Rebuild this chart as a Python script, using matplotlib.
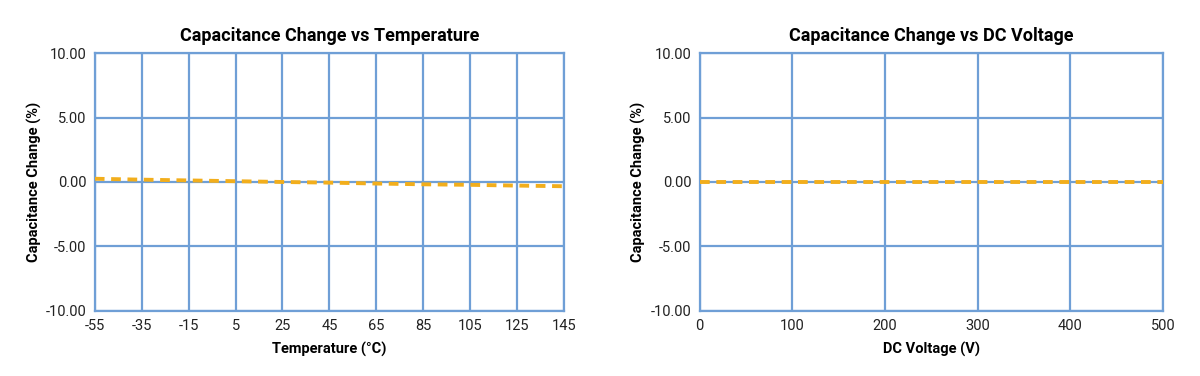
import matplotlib.pyplot as plt

plt.rcParams['font.family'] = ['Roboto', 'DejaVu Sans']
plt.rcParams['axes.unicode_minus'] = False

# data
temp = [-55, -35, -15, 5, 25, 45, 65, 85, 105, 125, 145]
temp_change = [0.25, 0.18, 0.12, 0.06, 0.0, -0.05, -0.12, -0.18, -0.22, -0.28, -0.33]
temp_ticks = [-55, -35, -15, 5, 25, 45, 65, 85, 105, 125, 145]

volt = [0, 100, 200, 300, 400, 500]
volt_change = [0.0, 0.0, 0.0, 0.0, 0.0, 0.0]
volt_ticks = [0, 100, 200, 300, 400, 500]

y_ticks = [-10, -5, 0, 5, 10]

grid_col = "#6f9fd6"
line_col = "#f2ae1c"

fig = plt.figure(figsize=(12, 3.76), dpi=100)
ax1 = fig.add_axes([0.079, 0.173, 0.391, 0.686])
ax2 = fig.add_axes([0.583, 0.173, 0.386, 0.686])


def style(ax, xs, ys, xticks, title, xlabel):
    ax.plot(xs, ys, color=line_col, lw=2.8, ls=(0, (2.5, 1.7)), zorder=3)
    ax.set_xlim(xticks[0], xticks[-1])
    ax.set_ylim(-10, 10)
    ax.set_xticks(xticks)
    ax.set_yticks(y_ticks)
    ax.set_yticklabels([f"{v:.2f}" for v in y_ticks])
    ax.grid(True, color=grid_col, lw=1.6)
    for s in ax.spines.values():
        s.set_color(grid_col)
        s.set_linewidth(1.6)
    ax.tick_params(length=0, labelsize=10.5, pad=6, colors="#222222")
    ax.set_title(title, fontsize=13, fontweight="bold", pad=9)
    ax.set_xlabel(xlabel, fontsize=10.5, fontweight="bold", labelpad=6)
    ax.set_ylabel("Capacitance Change (%)", fontsize=10.5, fontweight="bold", labelpad=3)


style(ax1, temp, temp_change, temp_ticks, "Capacitance Change vs Temperature", "Temperature (°C)")
style(ax2, volt, volt_change, volt_ticks, "Capacitance Change vs DC Voltage", "DC Voltage (V)")

fig.savefig("out.png", dpi=100)
